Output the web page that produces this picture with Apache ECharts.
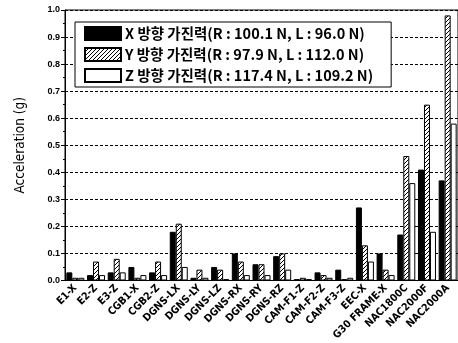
<!DOCTYPE html>
<html><head><meta charset="utf-8">
<script src="https://cdn.jsdelivr.net/npm/echarts@6/dist/echarts.min.js"></script>
<style>html,body{margin:0;padding:0;background:#fff}#c{width:458px;height:343px}</style>
</head><body><div id="c"></div>
<script>
const categories = ['E1-X','E2-Z','E3-Z','CGB1-X','CGB2-Z','DGNS-LX','DGNS-LY','DGNS-LZ','DGNS-RX','DGNS-RY','DGNS-RZ','CAM-F1-Z','CAM-F2-Z','CAM-F3-Z','EEC-X','G30 FRAME-X','NAC1800C','NAC2000F','NAC2000A'];
const xValues = [0.03,0.02,0.03,0.05,0.03,0.18,0.01,0.05,0.10,0.06,0.09,0.005,0.03,0.04,0.27,0.10,0.17,0.41,0.37];
const yValues = [0.01,0.07,0.08,0.01,0.07,0.21,0.04,0.04,0.07,0.06,0.10,0.01,0.02,0.005,0.13,0.04,0.46,0.65,0.98];
const zValues = [0.01,0.02,0.03,0.02,0.02,0.05,0.01,0.005,0.02,0.02,0.04,0.005,0.01,0.01,0.07,0.02,0.36,0.18,0.58];
const seriesNames = ['X 방향 가진력(R : 100.1 N, L : 96.0 N)','Y 방향 가진력(R : 97.9 N, L : 112.0 N)','Z 방향 가진력(R : 117.4 N, L : 109.2 N)'];

const pc = document.createElement('canvas');
pc.width = 4; pc.height = 4;
const g = pc.getContext('2d');
g.fillStyle = '#fff'; g.fillRect(0,0,4,4);
g.strokeStyle = '#000'; g.lineWidth = 1;
g.beginPath();
g.moveTo(-1,5); g.lineTo(5,-1);
g.moveTo(-1,1); g.lineTo(1,-1);
g.moveTo(3,5); g.lineTo(5,3);
g.stroke();
const hatch = {image: pc, repeat: 'repeat'};

const cond = "'DejaVu Sans Condensed', 'Liberation Sans', sans-serif";
const chart = echarts.init(document.getElementById('c'));
const bw = 6;
chart.setOption({
  animation: false,
  grid: {left: 65, top: 10, right: -5, bottom: 53, show: true, borderColor: '#000', borderWidth: 1},
  legend: {
    orient: 'vertical', left: 75, top: 22,
    backgroundColor: '#fff', borderColor: '#000', borderWidth: 1, borderRadius: 0,
    padding: [4, 18, 4, 9], itemWidth: 36, itemHeight: 13, itemGap: 6,
    icon: 'rect',
    textStyle: {fontFamily: 'Noto Sans CJK KR', fontWeight: 'bold', fontSize: 14.5, color: '#000', padding: [0,0,0,-1]},
    data: seriesNames
  },
  xAxis: {
    type: 'category', data: categories,
    axisLine: {lineStyle: {color: '#000', width: 1}},
    axisTick: {alignWithLabel: true, length: 4, lineStyle: {color: '#000'}},
    axisLabel: {rotate: 45, interval: 0, margin: 6, fontFamily: cond, fontWeight: 'bold', fontSize: 10.5, color: '#000'}
  },
  yAxis: {
    type: 'value', min: 0, max: 1.0, interval: 0.1,
    name: 'Acceleration (g)', nameLocation: 'middle', nameGap: 38,
    nameTextStyle: {fontFamily: cond, fontSize: 13.5, color: '#000'},
    axisLine: {show: true, lineStyle: {color: '#000'}},
    axisTick: {show: true, length: 4, lineStyle: {color: '#000'}},
    minorTick: {show: true, splitNumber: 2, length: 2, lineStyle: {color: '#000'}},
    axisLabel: {formatter: v => v.toFixed(1), fontFamily: 'Liberation Sans', fontWeight: 'bold', fontSize: 9, color: '#000', margin: 5},
    splitLine: {show: true, lineStyle: {color: '#000', type: [3, 2], width: 1}}
  },
  series: [
    {name: seriesNames[0], type: 'bar', data: xValues, barWidth: bw, barGap: '0%', itemStyle: {color: '#000', borderColor: '#000', borderWidth: 1}},
    {name: seriesNames[1], type: 'bar', data: yValues, barWidth: bw, barGap: '0%', itemStyle: {color: hatch, borderColor: '#000', borderWidth: 1}},
    {name: seriesNames[2], type: 'bar', data: zValues, barWidth: bw, barGap: '0%', itemStyle: {color: '#fff', borderColor: '#000', borderWidth: 1}}
  ]
});
</script></body></html>
